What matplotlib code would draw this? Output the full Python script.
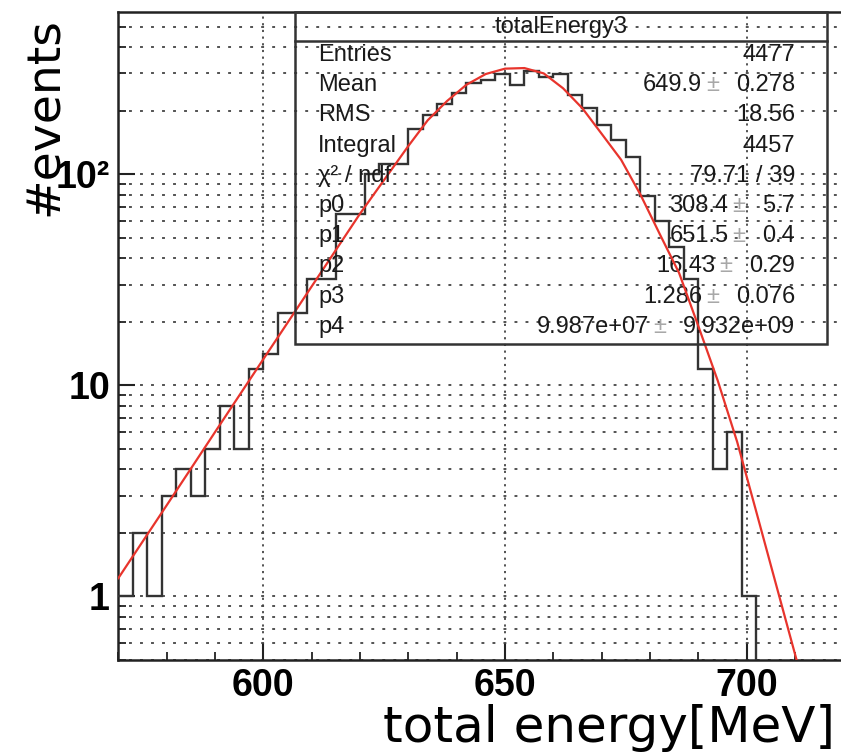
import matplotlib
matplotlib.use("Agg")
import matplotlib.pyplot as plt
import numpy as np
from matplotlib.lines import Line2D
from matplotlib.patches import Rectangle
from matplotlib.ticker import FixedLocator, FuncFormatter, LogLocator, MultipleLocator

# histogram: 3 MeV bins from 570 to 720
bin_edges = np.arange(570, 721, 3)
counts = [
    1, 2, 1, 3, 4, 3, 5, 8, 5, 12,            # 570 - 597
    14, 22, 22, 32, 32, 65, 65, 100, 112, 112,  # 600 - 627
    164, 190, 216, 241, 269, 280, 297, 265, 308, 287,  # 630 - 657
    298, 238, 205, 171, 145, 121, 79, 60, 45, 32,  # 660 - 687
    12, 4, 6, 1, 0, 0, 0, 0, 0, 0,            # 690 - 717
]

# fit curve
fit_x = [570, 580, 590, 600, 610, 620, 630, 634, 638, 642, 646, 650, 654,
         658, 662, 666, 670, 674, 678, 682, 686, 690, 694, 698, 702, 706, 710.3]
fit_y = [1.22, 2.7, 6.0, 13.3, 29.4, 65, 136, 180, 222, 265, 298, 316, 318,
         300, 255, 205, 155, 117, 80, 52, 34, 19, 10.5, 5.4, 2.5, 1.15, 0.5]

# stats box rows: label, value, error (None if no error)
stat_labels = ["Entries", "Mean", "RMS", "Integral", "\u03c7\u00b2 / ndf",
               "p0", "p1", "p2", "p3", "p4"]
stat_values = ["4477", "649.9", "18.56", "4457", "79.71 / 39",
               "308.4", "651.5", "16.43", "1.286", "9.987e+07"]
stat_errors = [None, "0.278", None, None, None,
               "5.7", "0.4", "0.29", "0.076", "9.932e+09"]

W, H = 841, 753


def px(x, y):
    """pixel position (from top-left) to figure fraction"""
    return x / W, 1 - y / H


plt.rcParams["font.family"] = ["Liberation Sans", "DejaVu Sans"]
plt.rcParams["font.weight"] = "bold"

fig = plt.figure(figsize=(W / 100, H / 100), dpi=100)

ax_l, ax_r, ax_t, ax_b = 118.3, 843.5, 11.7, 660.0
ax = fig.add_axes([ax_l / W, 1 - ax_b / H, (ax_r - ax_l) / W, (ax_b - ax_t) / H])
ax.set_yscale("log")
ax.set_xlim(570, 720)
ax.set_ylim(0.5, 588)

# ticks, ROOT style (inside, bottom/left only)
ax.xaxis.set_major_locator(FixedLocator([600, 650, 700]))
ax.xaxis.set_minor_locator(MultipleLocator(10))
ax.yaxis.set_major_locator(LogLocator(base=10))
ax.yaxis.set_minor_locator(LogLocator(base=10, subs=np.arange(2, 10)))
ax.yaxis.set_major_formatter(FuncFormatter(
    lambda v, _: {1: "1", 10: "10", 100: "10\u00b2"}.get(int(round(v)), "")))
ax.yaxis.set_minor_formatter(FuncFormatter(lambda v, _: ""))
ax.tick_params(which="major", direction="in", length=12, width=1.5,
               labelsize=27, top=False, right=False, color="#222222")
ax.tick_params(which="minor", direction="in", length=6, width=1.3,
               top=False, right=False, color="#222222")
ax.tick_params(axis="x", pad=6)
ax.tick_params(axis="y", pad=6)

for sp in ax.spines.values():
    sp.set_linewidth(1.8)
    sp.set_color("#222222")

# dotted grid
ax.grid(axis="y", which="both", color="#444444", linestyle=(0, (1.6, 4.5)), linewidth=1.3)
ax.grid(axis="x", which="major", color="#444444", linestyle=(0, (1.2, 2.5)), linewidth=1.3)
ax.set_axisbelow(True)

# histogram and fit
ax.stairs(counts, bin_edges, baseline=None, color="#333333", linewidth=1.7, zorder=3)
ax.plot(fit_x, fit_y, color="#e8342c", linewidth=1.6, zorder=4)

# stats box
bx0, by0, bx1, by1 = 295, 12, 827, 344
fig.add_artist(Rectangle(px(bx0, by1), (bx1 - bx0) / W, (by1 - by0) / H,
                         transform=fig.transFigure, fill=False,
                         edgecolor="#333333", linewidth=1.8))
fig.add_artist(Line2D([bx0 / W, bx1 / W], [1 - 41 / H, 1 - 41 / H],
                      transform=fig.transFigure, color="#333333", linewidth=1.8))
stat_kw = dict(fontsize=17, fontweight="normal", color="#1a1a1a", va="center")
fig.text(*px(561, 27), "totalEnergy3", ha="center", **stat_kw)

for i, (lab, val, err) in enumerate(zip(stat_labels, stat_values, stat_errors)):
    y = 55 + 30.2 * i
    fig.text(*px(318, y), lab, ha="left", **stat_kw)
    if err is None:
        fig.text(*px(795, y), val, ha="right", **stat_kw)
        continue
    e_txt = fig.text(*px(795, y), err, ha="right", **stat_kw)
    pm = ax.annotate("\u00b1", xy=(0, 0.5), xycoords=e_txt, xytext=(-12, 0),
                     textcoords="offset points", ha="right", fontsize=17,
                     fontweight="normal", color="#a8a8a8", va="center")
    ax.annotate(val, xy=(0, 0.5), xycoords=pm, xytext=(-3, 0),
                textcoords="offset points", ha="right", fontsize=17,
                fontweight="normal", color="#1a1a1a", va="center")

# axis titles
lab_kw = dict(fontweight="normal", color="black", family="DejaVu Sans")
fig.text(*px(835, 742), "total energy[MeV]", ha="right", va="baseline",
         fontsize=36, **lab_kw)
fig.text(*px(45, 117), "#events", ha="center", va="center", rotation=90,
         fontsize=34, **lab_kw)

fig.savefig("out.png", dpi=100)
